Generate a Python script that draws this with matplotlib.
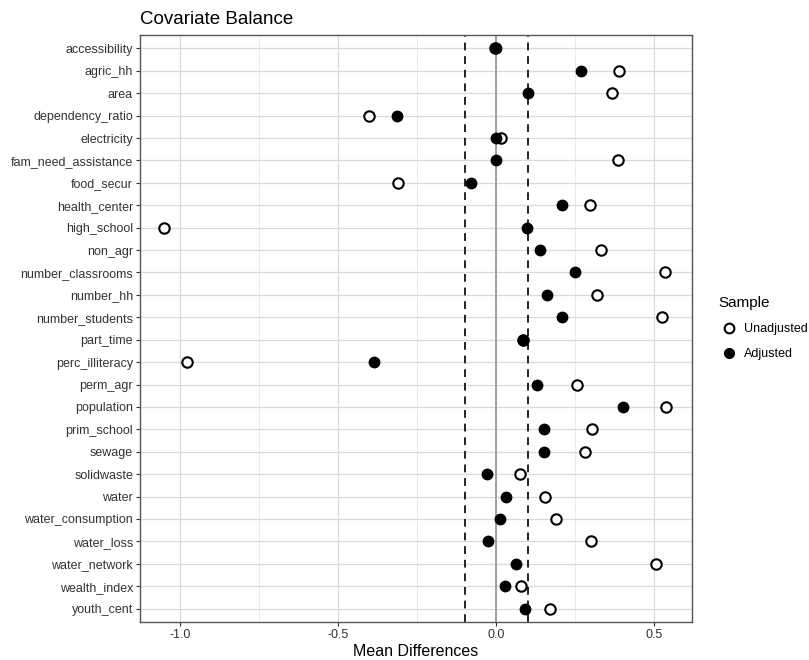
import matplotlib
matplotlib.use("Agg")
import matplotlib.pyplot as plt
from matplotlib.lines import Line2D
from matplotlib.ticker import MultipleLocator

covariates = ["accessibility", "agric_hh", "area", "dependency_ratio", "electricity",
              "fam_need_assistance", "food_secur", "health_center", "high_school",
              "non_agr", "number_classrooms", "number_hh", "number_students",
              "part_time", "perc_illiteracy", "perm_agr", "population", "prim_school",
              "sewage", "solidwaste", "water", "water_consumption", "water_loss",
              "water_network", "wealth_index", "youth_cent"]
unadjusted = [-0.002, 0.389, 0.367, -0.403, 0.017, 0.386, -0.309, 0.298, -1.050,
              0.332, 0.533, 0.318, 0.526, 0.086, -0.979, 0.257, 0.538, 0.304,
              0.281, 0.076, 0.155, 0.188, 0.300, 0.507, 0.078, 0.170]
adjusted = [0.0, 0.269, 0.100, -0.314, 0.0, 0.0, -0.079, 0.209, 0.097,
            0.139, 0.251, 0.160, 0.208, 0.086, -0.385, 0.129, 0.401, 0.152,
            0.151, -0.030, 0.030, 0.011, -0.027, 0.064, 0.028, 0.090]
threshold = 0.1

plt.rcParams['font.family'] = ['Liberation Sans', 'DejaVu Sans']

fig = plt.figure(figsize=(8.09, 6.6), dpi=100)
ax = fig.add_axes([140/809, 1-622/660, (692-140)/809, (622-35)/660])

n = len(covariates)
ypos = list(range(n))

ax.set_xlim(-1.127, 0.62)
ax.set_ylim(n - 0.4, -0.6)

ax.xaxis.set_major_locator(MultipleLocator(0.5))
ax.xaxis.set_minor_locator(MultipleLocator(0.25))
ax.grid(which='major', axis='both', color='#DADADA', linewidth=0.9, zorder=0)
ax.grid(which='minor', axis='x', color='#E6E6E6', linewidth=0.6, zorder=0)
ax.set_axisbelow(True)

ax.axvline(0, color='#A0A0A0', linewidth=1.4, zorder=1)
ax.axvline(-threshold, color='#222222', linewidth=1.4, linestyle=(0, (4, 3)), zorder=1)
ax.axvline(threshold, color='#222222', linewidth=1.4, linestyle=(0, (4, 3)), zorder=1)

ax.plot(unadjusted, ypos, linestyle='none', marker='o', markersize=7.5,
        markerfacecolor='white', markeredgecolor='black', markeredgewidth=1.5, zorder=3)
ax.plot(adjusted, ypos, linestyle='none', marker='o', markersize=7.5,
        markerfacecolor='black', markeredgecolor='black', markeredgewidth=1.0, zorder=4)

ax.set_yticks(ypos)
ax.set_yticklabels(covariates)
ax.set_xticks([-1.0, -0.5, 0.0, 0.5])
ax.set_xticklabels(['-1.0', '-0.5', '0.0', '0.5'])
ax.tick_params(axis='both', which='major', labelsize=9, labelcolor='#333333',
               color='#333333', length=3, width=0.8, pad=2)
ax.tick_params(axis='x', which='minor', length=0)

for sp in ax.spines.values():
    sp.set_color('#555555')
    sp.set_linewidth(1.0)

ax.set_xlabel('Mean Differences', fontsize=11.5, labelpad=2)
fig.text(140/809, 1-20/660, 'Covariate Balance', fontsize=13.5, ha='left', va='center')

handles = [Line2D([], [], linestyle='none', marker='o', markersize=7,
                  markerfacecolor='white', markeredgecolor='black', markeredgewidth=1.5),
           Line2D([], [], linestyle='none', marker='o', markersize=7,
                  markerfacecolor='black', markeredgecolor='black')]
leg = fig.legend(handles, ['Unadjusted', 'Adjusted'], title='Sample',
                 loc='upper left', bbox_to_anchor=(713/809, 1-291/660),
                 frameon=False, fontsize=9, title_fontsize=11,
                 handlelength=1.7, handletextpad=0.35, labelspacing=1.05, borderaxespad=0)
leg._legend_box.align = 'left'

fig.savefig('out.png', dpi=100)
